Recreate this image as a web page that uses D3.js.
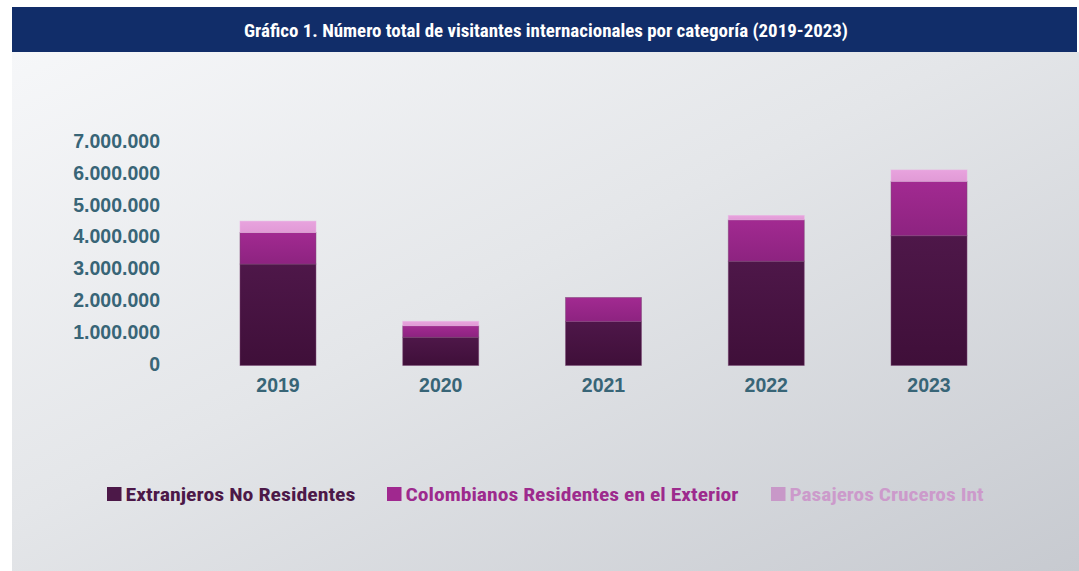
<!DOCTYPE html>
<html>
<head>
<meta charset="utf-8">
<script src="https://cdn.jsdelivr.net/npm/d3@7"></script>
<style>
  body { margin: 0; background: #fff; }
  svg { display: block; }
</style>
</head>
<body>
<div id="chart"></div>
<script>
// Data
const years = ['2019', '2020', '2021', '2022', '2023'];
const extranjeros = [3190000, 890000, 1380000, 3280000, 4080000];
const colombianos = [990000, 360000, 760000, 1300000, 1710000];
const cruceros = [360000, 140000, 0, 140000, 360000];
const yTicks = [0, 1000000, 2000000, 3000000, 4000000, 5000000, 6000000, 7000000];
const seriesNames = ['Extranjeros No Residentes', 'Colombianos Residentes en el Exterior', 'Pasajeros Cruceros Int'];

const W = 1079, H = 571;
const svg = d3.select('#chart').append('svg')
  .attr('width', W)
  .attr('height', H);

const defs = svg.append('defs');

// panel background gradient
const bg = defs.append('linearGradient')
  .attr('id', 'bg')
  .attr('x1', '0').attr('y1', '0').attr('x2', '1').attr('y2', '1');
bg.append('stop').attr('offset', '0%').attr('stop-color', '#f6f7f9');
bg.append('stop').attr('offset', '45%').attr('stop-color', '#e4e6e9');
bg.append('stop').attr('offset', '100%').attr('stop-color', '#c7cad0');

// bar gradients per series
const barColors = [
  ['#4e1749', '#3f0f39'],
  ['#a22a91', '#8d2380'],
  ['#e8a3de', '#e19ad6']
];
barColors.forEach((c, i) => {
  const g = defs.append('linearGradient')
    .attr('id', 'bar' + i)
    .attr('x1', '0').attr('y1', '0').attr('x2', '0').attr('y2', '1');
  g.append('stop').attr('offset', '0%').attr('stop-color', c[0]);
  g.append('stop').attr('offset', '100%').attr('stop-color', c[1]);
});

// panel + header
svg.append('rect')
  .attr('x', 12).attr('y', 52)
  .attr('width', 1067).attr('height', H - 52)
  .attr('fill', 'url(#bg)');

svg.append('rect')
  .attr('x', 12).attr('y', 7)
  .attr('width', 1065).attr('height', 45)
  .attr('fill', '#112d69');

svg.append('text')
  .attr('x', 546)
  .attr('y', 36.5)
  .attr('text-anchor', 'middle')
  .attr('fill', '#ffffff')
  .attr('font-family', '"Liberation Sans Narrow", "Roboto Condensed", "Liberation Sans", sans-serif')
  .attr('font-weight', 'bold')
  .attr('font-size', '17.5px')
  .attr('textLength', 604)
  .attr('lengthAdjust', 'spacingAndGlyphs')
  .text('Gráfico 1. Número total de visitantes internacionales por categoría (2019-2023)');

// scales
const x = d3.scaleBand()
  .domain(years)
  .range([196.6, 1010.4])
  .paddingInner(0.533)
  .paddingOuter(0.2665);

const y = d3.scaleLinear()
  .domain([0, 7000000])
  .range([365.5, 142.9]);

const fmt = v => v === 0 ? '0' : d3.format(',')(v).replace(/,/g, '.');

// y axis labels (no line, no ticks)
const yAxis = svg.append('g')
  .attr('transform', 'translate(160,0)')
  .call(d3.axisLeft(y).tickValues(yTicks).tickFormat(fmt).tickSize(0).tickPadding(0));
yAxis.select('.domain').remove();
yAxis.selectAll('text')
  .attr('fill', '#386577')
  .attr('font-family', '"Liberation Sans", Arial, sans-serif')
  .attr('font-weight', 'bold')
  .attr('font-size', '19.5px')
  .attr('dy', '0.24em');

// stacked bars
const table = years.map((yr, i) => ({
  year: yr,
  s0: extranjeros[i],
  s1: colombianos[i],
  s2: cruceros[i]
}));

const stack = d3.stack().keys(['s0', 's1', 's2']);
const series = stack(table);

series.forEach((s, si) => {
  svg.append('g')
    .selectAll('rect')
    .data(s.filter(d => d[1] - d[0] > 0))
    .join('rect')
    .attr('x', d => x(d.data.year))
    .attr('y', d => y(d[1]))
    .attr('width', x.bandwidth())
    .attr('height', d => y(d[0]) - y(d[1]))
    .attr('fill', 'url(#bar' + si + ')')
    .attr('stroke', si === 2 ? '#eab3e2' : '#7d4a77')
    .attr('stroke-opacity', 0.6)
    .attr('stroke-width', 0.8);
});

// x axis labels
const xAxis = svg.append('g')
  .attr('transform', 'translate(0,365.5)')
  .call(d3.axisBottom(x).tickSize(0).tickPadding(0));
xAxis.select('.domain').remove();
xAxis.selectAll('text')
  .attr('fill', '#386577')
  .attr('font-family', '"Liberation Sans", Arial, sans-serif')
  .attr('font-weight', 'bold')
  .attr('font-size', '19.5px')
  .attr('dy', null)
  .attr('y', 26.5);

// legend
const legendItems = [
  { name: seriesNames[0], sq: '#4c1848', txt: '#4c1848', x: 107, w: 230 },
  { name: seriesNames[1], sq: '#a0288f', txt: '#9d2a8d', x: 387, w: 333 },
  { name: seriesNames[2], sq: '#c898c8', txt: '#cc9acb', x: 771, w: 194 }
];

const legend = svg.append('g');
legendItems.forEach(item => {
  const g = legend.append('g')
    .attr('transform', `translate(${item.x}, 487)`);
  g.append('rect')
    .attr('width', 14.5)
    .attr('height', 14)
    .attr('fill', item.sq);
  g.append('text')
    .attr('x', 18.5)
    .attr('y', 14)
    .attr('fill', item.txt)
    .attr('font-family', '"Liberation Sans Narrow", "Roboto Condensed", "Liberation Sans", sans-serif')
    .attr('font-weight', 'bold')
    .attr('font-size', '19px')
    .attr('textLength', item.w)
    .attr('lengthAdjust', 'spacingAndGlyphs')
    .text(item.name);
});
</script>
</body>
</html>
